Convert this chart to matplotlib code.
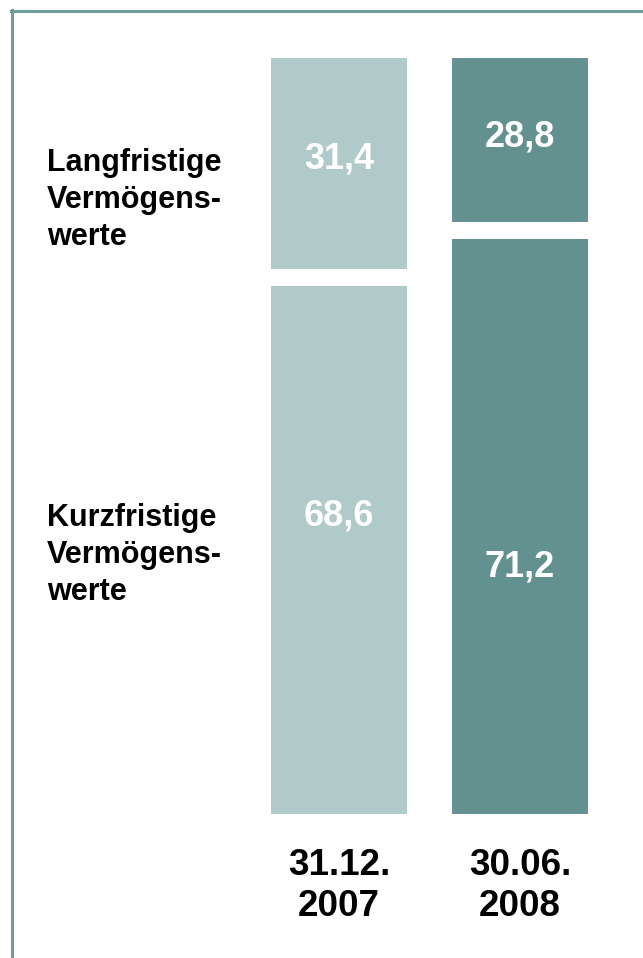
import matplotlib
matplotlib.use("Agg")
import matplotlib.pyplot as plt
from matplotlib.lines import Line2D
from matplotlib.transforms import blended_transform_factory

plt.rcParams['font.family'] = ['Liberation Sans', 'DejaVu Sans']
plt.rcParams['font.weight'] = 'bold'

# data
dates = ["31.12.\n2007", "30.06.\n2008"]
row_labels = ["Langfristige\nVermögens-\nwerte", "Kurzfristige\nVermögens-\nwerte"]
long_term = [31.4, 28.8]     # printed values
short_term = [68.6, 71.2]
# segment heights as drawn in the picture (share of bar, %)
drawn_long = [28.55, 22.2]
drawn_short = [71.45, 77.8]

colors = ["#B0C9C9", "#63918F"]
gap = 2.3
W, H = 643, 958

fig = plt.figure(figsize=(W / 100, H / 100), dpi=100)
ax = fig.add_axes([271 / W, (H - 814) / H, (588 - 271) / W, 756 / H])

x = [0, 1]
ax.bar(x, drawn_short, width=0.7514, color=colors, linewidth=0)
bottoms = [s + gap for s in drawn_short]
ax.bar(x, drawn_long, bottom=bottoms, width=0.7514, color=colors, linewidth=0)
ax.set_xlim(-0.3757, 1.3757)
ax.set_ylim(0, 100 + gap)
ax.axis("off")

fmt = lambda v: f"{v:.1f}".replace(".", ",")
# label baselines (data units)
long_y = [87.4, 90.3]
short_y = [39.0, 32.1]
for i in x:
    ax.text(i, long_y[i], fmt(long_term[i]), ha="center", va="baseline",
            color="white", fontsize=26, fontweight="bold")
    ax.text(i, short_y[i], fmt(short_term[i]), ha="center", va="baseline",
            color="white", fontsize=26, fontweight="bold")

# date labels under bars (va baseline -> last line)
tr = blended_transform_factory(ax.transData, fig.transFigure)
for i in x:
    ax.text(x[i], 1 - 916 / H, dates[i], transform=tr, ha="center", va="baseline",
            fontsize=26.5, fontweight="bold", color="black", linespacing=1.22)

# row labels at the left
for lab, base in zip(row_labels, [245, 600]):
    fig.text(47 / W, 1 - base / H, lab, ha="left", va="baseline",
             fontsize=22, fontweight="bold", color="black", linespacing=1.3)

# frame lines (top and left only)
fig.add_artist(Line2D([10.5 / W, 1], [1 - 10.5 / H, 1 - 10.5 / H], color="#6F9D9A", lw=2.2))
fig.add_artist(Line2D([11.5 / W, 11.5 / W], [0, 1 - 9.5 / H], color="#6F9D9A", lw=2.2))

fig.savefig("out.png", dpi=100)
